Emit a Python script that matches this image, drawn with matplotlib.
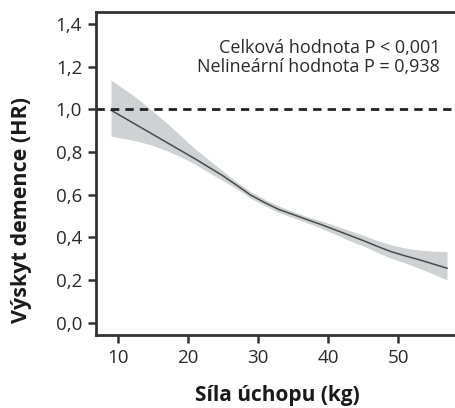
import matplotlib
matplotlib.use("Agg")
import matplotlib.pyplot as plt

grip = [9, 11, 13, 15, 17, 19, 21, 23, 25, 27, 29, 31, 33, 35, 37, 39, 41, 43, 45, 47, 49, 51, 53, 55, 57]
hr = [0.996, 0.958, 0.920, 0.882, 0.844, 0.806, 0.768, 0.728, 0.688, 0.643, 0.597, 0.562, 0.530,
      0.507, 0.483, 0.460, 0.435, 0.410, 0.385, 0.358, 0.333, 0.313, 0.295, 0.275, 0.255]
hr_upper = [1.137, 1.092, 1.045, 0.99, 0.935, 0.875, 0.815, 0.762, 0.71, 0.658, 0.613, 0.578, 0.546,
            0.522, 0.497, 0.478, 0.455, 0.432, 0.41, 0.385, 0.365, 0.35, 0.34, 0.335, 0.333]
hr_lower = [0.874, 0.862, 0.849, 0.83, 0.806, 0.776, 0.743, 0.703, 0.665, 0.627, 0.582, 0.548, 0.515,
            0.492, 0.468, 0.443, 0.415, 0.385, 0.36, 0.33, 0.302, 0.28, 0.255, 0.228, 0.20]

yticks = [0.0, 0.2, 0.4, 0.6, 0.8, 1.0, 1.2, 1.4]
ytick_labels = ["0,0", "0,2", "0,4", "0,6", "0,8", "1,0", "1,2", "1,4"]
xticks = [10, 20, 30, 40, 50]
xtick_labels = ["10", "20", "30", "40", "50"]
annot = "Celková hodnota P < 0,001\nNelineární hodnota P = 0,938"

plt.rcParams['font.family'] = ['Open Sans', 'DejaVu Sans']

fig = plt.figure(figsize=(4.55, 4.08), dpi=100)
ax = fig.add_axes([0.211, 0.179, 0.8176, 0.7925])

ax.fill_between(grip, hr_lower, hr_upper, color="#d0d1d3", linewidth=0)
ax.plot(grip, hr, color="#4a4a4a", linewidth=1.1)
ax.axhline(1.0, color="#222222", linewidth=2, linestyle=(0, (3, 2.2)))

ax.set_xlim(6.86, 60)
ax.set_ylim(-0.058, 1.458)
ax.set_yticks(yticks)
ax.set_yticklabels(ytick_labels)
ax.set_xticks(xticks)
ax.set_xticklabels(xtick_labels)

for s in ["left", "bottom", "top"]:
    ax.spines[s].set_linewidth(2)
    ax.spines[s].set_color("#333333")
ax.spines["right"].set_visible(False)
ax.tick_params(axis="both", direction="out", length=6, width=1.8, color="#333333",
               labelsize=13.5, labelcolor="#2a2a2a", pad=4)

ax.text(0.925, 0.915, annot, transform=ax.transAxes,
        ha="right", va="top", fontsize=13, color="#2a2a2a", linespacing=1.05)

fig.text(0.609, 0.03, "Síla úchopu (kg)", ha="center", va="center",
         fontsize=15, fontweight="bold", color="#1a1a1a")
fig.text(0.048, 0.485, "Výskyt demence (HR)", ha="center", va="center", rotation=90,
         fontsize=15.5, fontweight="bold", color="#1a1a1a")

fig.savefig("out.png", dpi=100)
